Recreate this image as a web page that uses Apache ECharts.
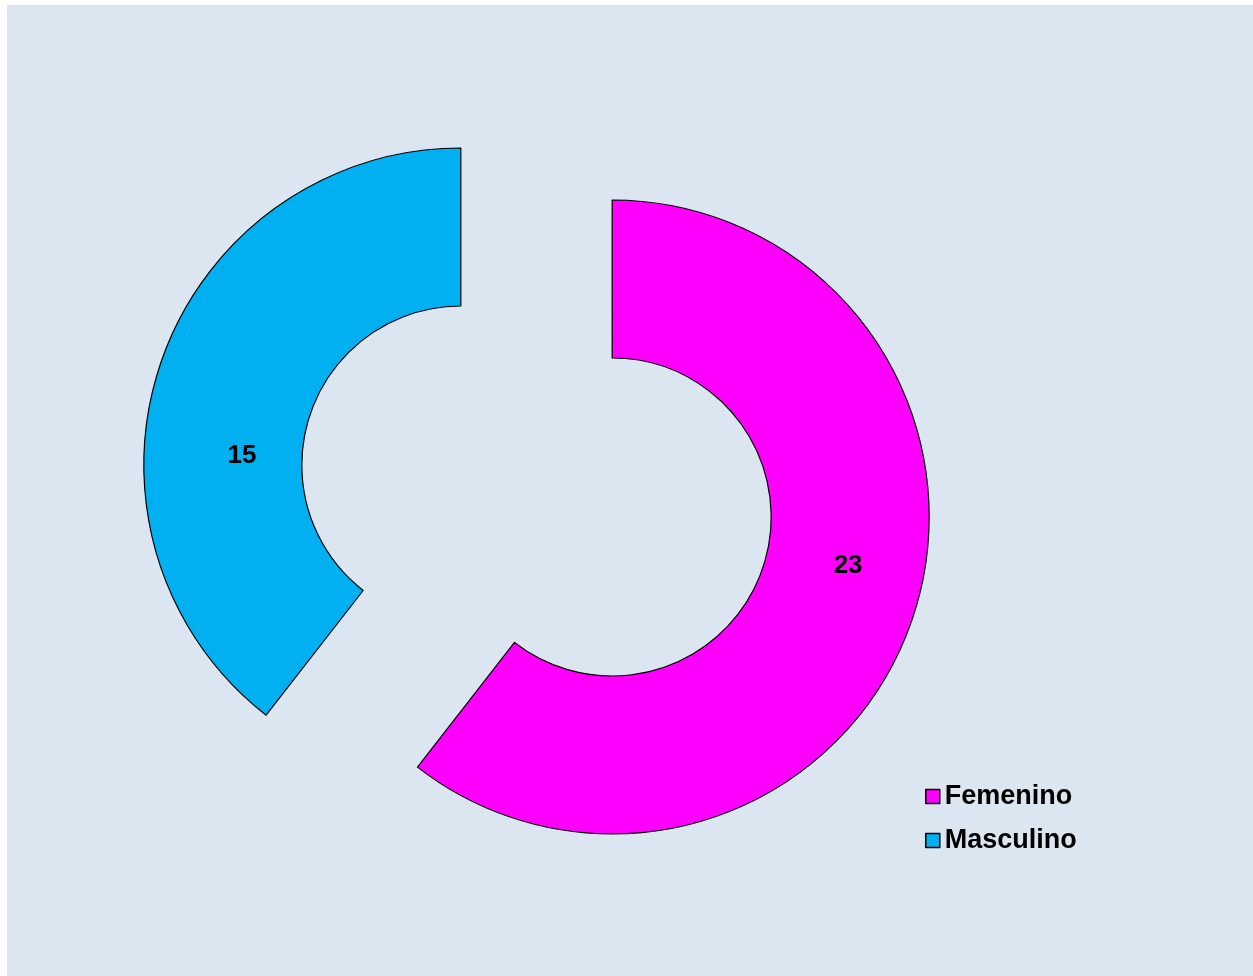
<!DOCTYPE html>
<html>
<head>
<meta charset="utf-8">
<script src="https://cdn.jsdelivr.net/npm/echarts@6/dist/echarts.min.js"></script>
<style>
  html, body { margin: 0; padding: 0; background: #ffffff; }
  #wrap { position: relative; width: 1253px; height: 976px; background: #ffffff; }
  #chart { position: absolute; left: 7px; top: 5px; width: 1246px; height: 971px; }
</style>
</head>
<body>
<div id="wrap"><div id="chart"></div></div>
<script>
// Sexo de los participantes
const categories = ['Femenino', 'Masculino'];
const values = [23, 15];
const colors = ['#ff00ff', '#00b0f0'];

// Nudges for the value labels inside each ring segment
const labelShift = [
  { dx: 8, dy: -29 },
  { dx: 9, dy: 69 }
];

const chart = echarts.init(document.getElementById('chart'), null, { renderer: 'canvas' });

const data = categories.map((name, i) => ({
  name: name,
  value: values[i],
  selected: true,
  itemStyle: { color: colors[i] }
}));

chart.setOption({
  backgroundColor: '#dce6f1',
  animation: false,
  legend: {
    orient: 'vertical',
    left: 913,
    top: 773,
    itemWidth: 14,
    itemHeight: 14,
    itemGap: 17,
    icon: 'rect',
    selectedMode: false,
    data: categories,
    itemStyle: { borderColor: '#000000', borderWidth: 1.5 },
    textStyle: {
      fontFamily: 'Liberation Sans, Arial, sans-serif',
      fontWeight: 'bold',
      fontSize: 27,
      color: '#000000',
      padding: [0, 0, 0, 0]
    }
  },
  series: [{
    type: 'pie',
    center: [529.5, 486],
    radius: [159, 317],
    startAngle: 90,
    clockwise: true,
    selectedMode: 'multiple',
    selectedOffset: 80,
    avoidLabelOverlap: false,
    itemStyle: { borderColor: '#000000', borderWidth: 1.2 },
    label: {
      show: true,
      position: 'inside',
      formatter: '{c}',
      fontFamily: 'Liberation Sans, Arial, sans-serif',
      fontWeight: 'bold',
      fontSize: 26,
      color: '#000000'
    },
    labelLayout: function (params) {
      return labelShift[params.dataIndex];
    },
    labelLine: { show: false },
    emphasis: { disabled: true },
    data: data
  }]
});
</script>
</body>
</html>
